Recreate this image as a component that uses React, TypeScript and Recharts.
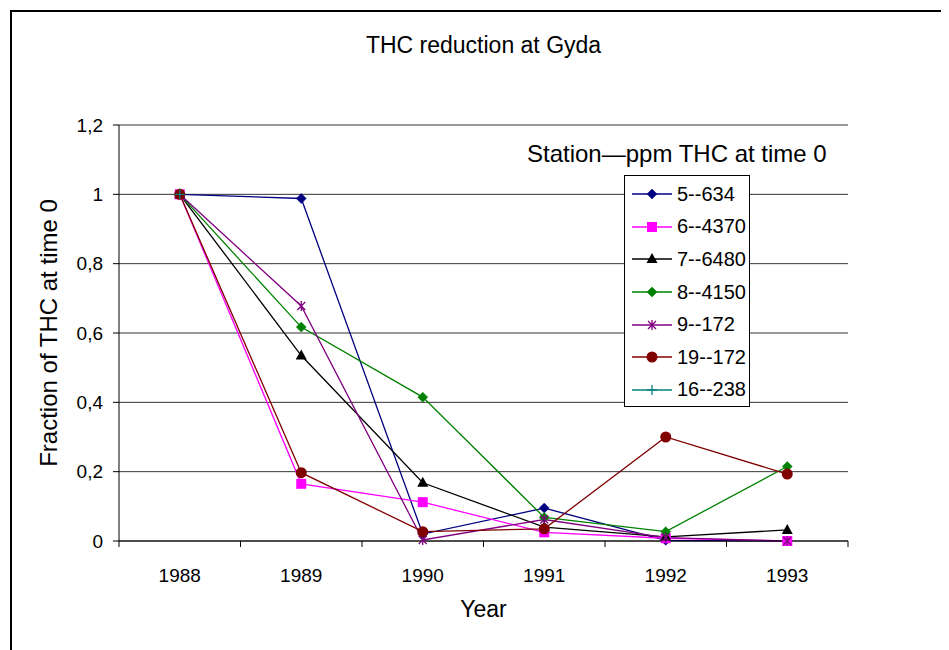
import { LineChart, Line, XAxis, YAxis, CartesianGrid, Legend } from 'recharts'

// years on the x axis, and boundary positions between them for the tick marks
const years = [1988, 1989, 1990, 1991, 1992, 1993]
const xTicks = [1987.5, 1988, 1988.5, 1989, 1989.5, 1990, 1990.5, 1991, 1991.5, 1992, 1992.5, 1993, 1993.5]
const yTicks = [0, 0.2, 0.4, 0.6, 0.8, 1, 1.2]

// fraction of THC remaining, per station
const st5_634 = [1, 0.988, 0.02, 0.095, 0.002, 0]
const st6_4370 = [1, 0.165, 0.112, 0.025, 0.008, 0]
const st7_6480 = [1, 0.535, 0.168, 0.04, 0.012, 0.032]
const st8_4150 = [1, 0.617, 0.415, 0.068, 0.027, 0.215]
const st9_172 = [1, 0.678, 0.003, 0.062, 0.01, 0]
const st19_172 = [1, 0.197, 0.027, 0.035, 0.3, 0.193]
const st16_238 = [1, null, null, null, null, null]

const FONT = '"Liberation Sans", Arial, sans-serif'

type Shape = 'diamond' | 'square' | 'triangle' | 'star' | 'circle' | 'plus'

interface Series {
  key: string
  name: string
  color: string
  shape: Shape
  values: (number | null)[]
}

const series: Series[] = [
  { key: 's5', name: '5--634', color: '#000080', shape: 'diamond', values: st5_634 },
  { key: 's6', name: '6--4370', color: '#FF00FF', shape: 'square', values: st6_4370 },
  { key: 's7', name: '7--6480', color: '#000000', shape: 'triangle', values: st7_6480 },
  { key: 's8', name: '8--4150', color: '#008000', shape: 'diamond', values: st8_4150 },
  { key: 's9', name: '9--172', color: '#800080', shape: 'star', values: st9_172 },
  { key: 's19', name: '19--172', color: '#800000', shape: 'circle', values: st19_172 },
  { key: 's16', name: '16--238', color: '#008080', shape: 'plus', values: st16_238 },
]

const data = years.map((year, i) => {
  const row: Record<string, number | null> = { year }
  series.forEach((s) => {
    row[s.key] = s.values[i]
  })
  return row
})

function Marker({ shape, color, x, y }: { shape: Shape; color: string; x: number; y: number }) {
  switch (shape) {
    case 'diamond':
      return <polygon points={`${x},${y - 5} ${x + 5},${y} ${x},${y + 5} ${x - 5},${y}`} fill={color} stroke={color} strokeWidth={0.5} />
    case 'square':
      return <rect x={x - 5} y={y - 5} width={10} height={10} fill={color} />
    case 'triangle':
      return <polygon points={`${x},${y - 6} ${x + 5.5},${y + 4} ${x - 5.5},${y + 4}`} fill={color} />
    case 'star':
      return (
        <path
          d={`M${x - 4},${y - 4}L${x + 4},${y + 4}M${x - 4},${y + 4}L${x + 4},${y - 4}M${x},${y - 5}L${x},${y + 5}`}
          stroke={color}
          strokeWidth={1.3}
          fill="none"
        />
      )
    case 'circle':
      return <circle cx={x} cy={y} r={5.5} fill={color} />
    case 'plus':
      return <path d={`M${x - 5},${y}L${x + 5},${y}M${x},${y - 5}L${x},${y + 5}`} stroke={color} strokeWidth={1.3} fill="none" />
  }
}

function XTick(props: any) {
  const { x, y, payload } = props
  if (Number.isInteger(payload.value)) {
    return (
      <text x={x} y={y + 41} textAnchor="middle" fontSize={19} fill="#000" fontFamily={FONT}>
        {payload.value}
      </text>
    )
  }
  return <line x1={x} x2={x} y1={y} y2={y + 6} stroke="#000" />
}

function renderLegend() {
  return (
    <div style={{ fontFamily: FONT, color: '#000' }}>
      <div style={{ fontSize: 24, lineHeight: '28px', whiteSpace: 'nowrap', marginLeft: 4 }}>Station—ppm THC at time 0</div>
      <div
        style={{
          marginLeft: 101,
          marginTop: 7,
          width: 124,
          border: '1px solid #000',
          paddingTop: 2,
          background: '#fff',
        }}
      >
        {series.map((s) => (
          <div key={s.key} style={{ display: 'flex', alignItems: 'center', height: 32.6 }}>
            <svg width={52} height={20} style={{ flex: 'none' }}>
              <line x1={7} x2={47} y1={10} y2={10} stroke={s.color} strokeWidth={1.3} />
              <Marker shape={s.shape} color={s.color} x={27} y={10} />
            </svg>
            <span style={{ fontSize: 20, whiteSpace: 'nowrap' }}>{s.name}</span>
          </div>
        ))}
      </div>
    </div>
  )
}

export default function App() {
  return (
    <div style={{ position: 'relative', width: 941, height: 642, overflow: 'hidden', fontFamily: FONT, background: '#fff' }}>
      <div style={{ position: 'absolute', left: 2, top: 2, width: 1000, height: 1000, border: '2px solid #000' }} />
      <div
        style={{
          position: 'absolute',
          left: 111,
          width: 729,
          top: 24,
          textAlign: 'center',
          fontSize: 23,
          lineHeight: '27px',
          color: '#000',
        }}
      >
        THC reduction at Gyda
      </div>
      <LineChart width={941} height={642} data={data} margin={{ top: 117, right: 101, bottom: 39, left: 51 }}>
        <CartesianGrid vertical={false} stroke="#333" yAxisId="l" />
        <XAxis
          dataKey="year"
          type="number"
          domain={[1987.5, 1993.5]}
          ticks={xTicks}
          interval={0}
          tick={<XTick />}
          tickLine={false}
          tickSize={0}
          tickMargin={0}
          height={70}
          axisLine={{ stroke: '#000' }}
          label={{
            content: (p: any) => {
              const vb = p.viewBox
              return (
                <text x={vb.x + vb.width / 2} y={vb.y + 76} textAnchor="middle" fontSize={23} fill="#000" fontFamily={FONT}>
                  Year
                </text>
              )
            },
          }}
        />
        <YAxis
          yAxisId="l"
          domain={[0, 1.2]}
          ticks={yTicks}
          width={60}
          tickSize={6}
          tickMargin={10}
          tickFormatter={(v: number) => String(v).replace('.', ',')}
          tick={{ fontSize: 19, fill: '#000', fontFamily: FONT }}
          tickLine={{ stroke: '#000' }}
          axisLine={{ stroke: '#000' }}
          label={{
            content: (p: any) => {
              const vb = p.viewBox
              const cx = vb.x - 2
              const cy = vb.y + vb.height / 2
              return (
                <text
                  x={cx}
                  y={cy}
                  transform={`rotate(-90 ${cx} ${cy})`}
                  textAnchor="middle"
                  fontSize={24}
                  fill="#000"
                  fontFamily={FONT}
                >
                  Fraction of THC at time 0
                </text>
              )
            },
          }}
        />
        <YAxis yAxisId="r" orientation="right" domain={[0, 1.2]} width={0} tick={false} tickLine={false} axisLine={{ stroke: '#888' }} />
        {series.map((s) => (
          <Line
            key={s.key}
            yAxisId="l"
            type="linear"
            dataKey={s.key}
            name={s.name}
            stroke={s.color}
            strokeWidth={1.3}
            isAnimationActive={false}
            activeDot={false}
            dot={(p: any) =>
              p.cx == null || p.cy == null || p.value == null ? (
                <g key={`${s.key}-${p.index}`} />
              ) : (
                <g key={`${s.key}-${p.index}`}>
                  <Marker shape={s.shape} color={s.color} x={p.cx} y={p.cy} />
                </g>
              )
            }
          />
        ))}
        <Legend
          layout="vertical"
          align="center"
          verticalAlign="middle"
          content={renderLegend}
          wrapperStyle={{ left: 515, top: 132, width: 330, height: 280 }}
        />
      </LineChart>
    </div>
  )
}
